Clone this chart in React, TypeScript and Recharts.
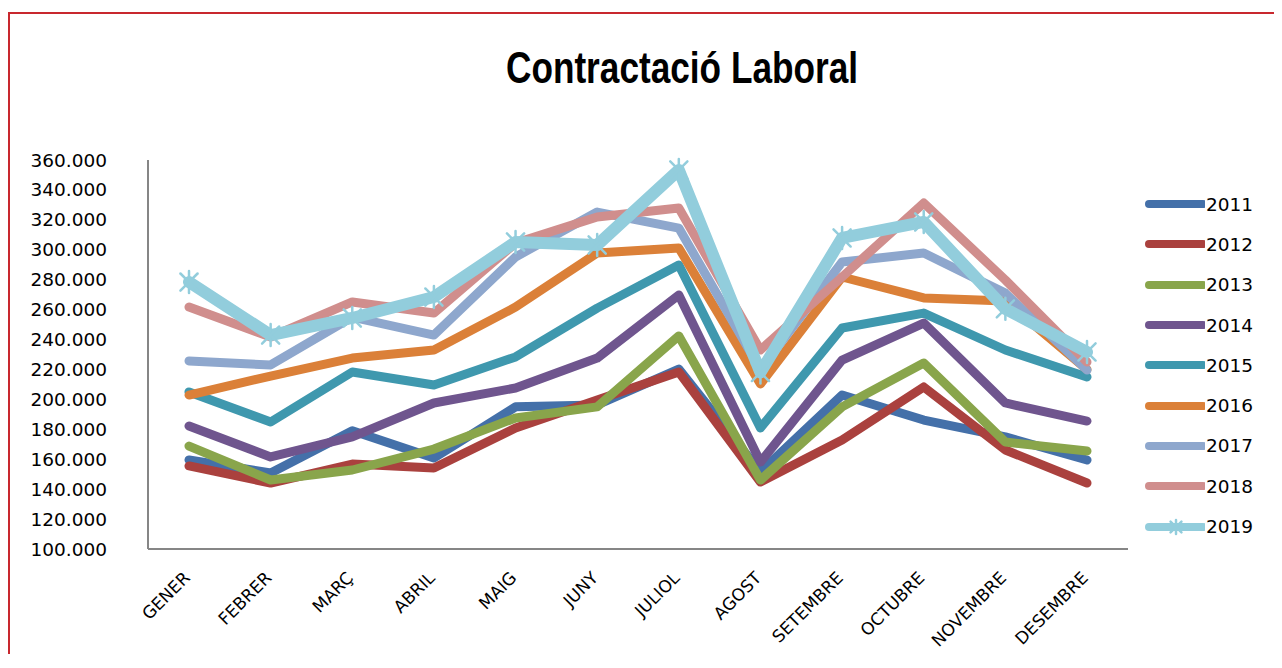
import { Legend, Line, LineChart, XAxis, YAxis } from "recharts";

const months = ["GENER", "FEBRER", "MARÇ", "ABRIL", "MAIG", "JUNY", "JULIOL", "AGOST", "SETEMBRE", "OCTUBRE", "NOVEMBRE", "DESEMBRE"];

const y2011 = [159500, 150800, 179000, 160800, 195000, 196300, 220300, 151500, 202900, 186200, 174900, 159500];
const y2012 = [155500, 144100, 156800, 154100, 180900, 199600, 218300, 144800, 172800, 208300, 166200, 144100];
const y2013 = [168800, 146100, 152800, 166800, 187600, 195000, 242400, 146100, 195000, 224300, 171500, 165500];
const y2014 = [182200, 161500, 174900, 197600, 207600, 227600, 269800, 158100, 226300, 251000, 197600, 185500];
const y2015 = [205000, 184900, 218300, 209600, 228400, 261000, 289800, 180900, 247700, 257700, 233000, 215000];
const y2016 = [202900, 215600, 227600, 233000, 261700, 297800, 301200, 210300, 281800, 267800, 265800, 220000];
const y2017 = [225700, 223000, 255000, 243000, 295200, 325200, 314500, 220000, 291800, 297800, 271000, 219600];
const y2018 = [261700, 241700, 265100, 257700, 304500, 321900, 327900, 233000, 281800, 331200, 279800, 225000];
const y2019 = [278400, 243000, 254400, 268400, 305200, 303200, 353300, 218000, 307900, 318600, 260500, 231700];

const yTicks = [100000, 120000, 140000, 160000, 180000, 200000, 220000, 240000, 260000, 280000, 300000, 320000, 340000, 360000];

const series = [
  { key: "2011", values: y2011, color: "#4470A9" },
  { key: "2012", values: y2012, color: "#AA413E" },
  { key: "2013", values: y2013, color: "#89A54B" },
  { key: "2014", values: y2014, color: "#6F558E" },
  { key: "2015", values: y2015, color: "#3F98AE" },
  { key: "2016", values: y2016, color: "#DB8038" },
  { key: "2017", values: y2017, color: "#8EA7CD" },
  { key: "2018", values: y2018, color: "#D08E8D" },
  { key: "2019", values: y2019, color: "#92CDDC", star: true },
];

const rows = months.map((month, i) => {
  const row: Record<string, string | number> = { month };
  series.forEach((s) => (row[s.key] = s.values[i]));
  return row;
});

const tickFont = "'DejaVu Sans', sans-serif";

function formatThousands(v: number): string {
  return `${Math.round(v / 1000)}.000`;
}

function Star({ cx, cy, color, r = 11 }: { cx: number; cy: number; color: string; r?: number }) {
  const d = r * 0.78;
  return (
    <g stroke={color} strokeWidth={2.5} strokeLinecap="round">
      <line x1={cx} y1={cy - r} x2={cx} y2={cy + r} />
      <line x1={cx - d} y1={cy - d} x2={cx + d} y2={cy + d} />
      <line x1={cx - d} y1={cy + d} x2={cx + d} y2={cy - d} />
    </g>
  );
}

function StarDot(props: any) {
  const { cx, cy, index } = props;
  if (cx == null || cy == null) return <g key={index} />;
  return <Star key={index} cx={cx} cy={cy} color="#92CDDC" />;
}

// rotated month labels, end of text sits just under the category
function MonthTick({ x, y, payload }: any) {
  const ax = x + 2;
  const ay = y + 28;
  return (
    <text
      x={ax}
      y={ay}
      transform={`rotate(-45 ${ax} ${ay})`}
      textAnchor="end"
      fontFamily={tickFont}
      fontSize={17}
      fill="#000"
    >
      {payload.value}
    </text>
  );
}

function YearLegend({ payload }: any) {
  return (
    <div>
      {(payload || []).map((entry: any) => {
        const s = series.find((x) => x.key === entry.dataKey);
        if (!s) return null;
        return (
          <div key={s.key} style={{ display: "flex", alignItems: "center", height: 40.3 }}>
            <svg width={62} height={24}>
              <line x1={6} y1={12} x2={60} y2={12} stroke={s.color} strokeWidth={8} strokeLinecap="round" />
              {s.star && <Star cx={33} cy={12} color={s.color} r={7} />}
            </svg>
            <span style={{ fontFamily: tickFont, fontSize: 18.5, color: "#000", marginLeft: 1 }}>{s.key}</span>
          </div>
        );
      })}
    </div>
  );
}

export default function App() {
  return (
    <div
      style={{
        position: "relative",
        marginTop: 4,
        width: 1272,
        height: 640,
        borderLeft: "2px solid #C8282E",
        borderTop: "2px solid #C8282E",
        background: "#fff",
      }}
    >
      <div
        style={{
          position: "absolute",
          left: 672,
          top: 32,
          transform: "translateX(-50%) scaleX(0.8)",
          whiteSpace: "nowrap",
          fontFamily: "'Liberation Sans', Arial, sans-serif",
          fontWeight: 700,
          fontSize: 44,
          lineHeight: 1,
          color: "#000",
        }}
      >
        Contractació Laboral
      </div>
      <LineChart width={1270} height={640} data={rows} margin={{ top: 146, right: 152, bottom: 25, left: 0 }}>
        <XAxis
          dataKey="month"
          padding={{ left: 41, right: 41 }}
          axisLine={{ stroke: "#868686", strokeWidth: 2 }}
          tickLine={false}
          tickSize={0}
          tick={<MonthTick />}
          interval={0}
          height={80}
        />
        <YAxis
          domain={[100000, 360000]}
          ticks={yTicks}
          interval={0}
          tickFormatter={formatThousands}
          axisLine={{ stroke: "#868686", strokeWidth: 2 }}
          tickLine={false}
          tickSize={0}
          tickMargin={41}
          width={138}
          tick={{ fill: "#000", fontSize: 18.5, fontFamily: tickFont }}
        />
        <Legend
          layout="vertical"
          align="center"
          verticalAlign="middle"
          content={<YearLegend />}
          wrapperStyle={{ left: 1133, top: 170, width: 140 }}
        />
        {series.map((s) => (
          <Line
            key={s.key}
            type="linear"
            dataKey={s.key}
            name={s.key}
            stroke={s.color}
            strokeWidth={s.star ? 12 : 9}
            strokeLinecap="round"
            strokeLinejoin="round"
            dot={s.star ? <StarDot /> : false}
            activeDot={false}
            isAnimationActive={false}
          />
        ))}
      </LineChart>
    </div>
  );
}
